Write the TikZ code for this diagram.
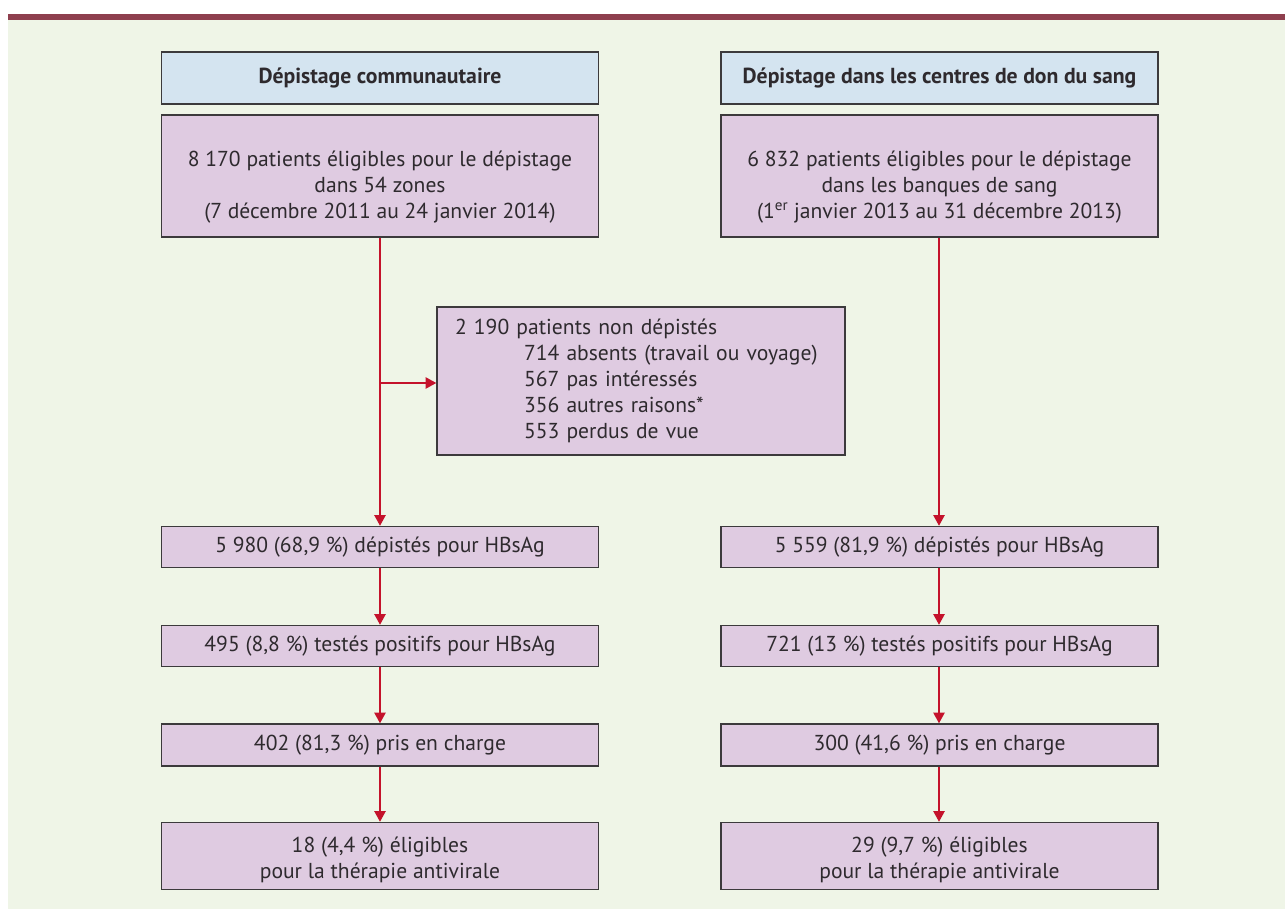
\documentclass[tikz,border=0pt]{standalone}
\usepackage{fontspec}
\setmainfont{PT Sans}
\usetikzlibrary{arrows.meta}
\definecolor{bgc}{HTML}{EFF5E7}
\definecolor{barc}{HTML}{8E3F4E}
\definecolor{hdrc}{HTML}{D4E4F0}
\definecolor{boxc}{HTML}{DFCBE1}
\definecolor{edgec}{HTML}{3C3A3C}
\definecolor{txtc}{HTML}{2E2A2E}
\definecolor{arrc}{HTML}{C4122B}
\tikzset{
  hdrbox/.style={draw=edgec, line width=1.1pt, fill=hdrc, minimum width=328pt, minimum height=39pt, inner sep=0pt,
    font=\fontsize{16.3}{19}\selectfont\bfseries, text=txtc},
  flowbox/.style={draw=edgec, line width=1.1pt, fill=boxc, minimum width=328pt, inner sep=0pt, align=center,
    font=\fontsize{16.2}{19.5}\selectfont, text=txtc},
  flowarrow/.style={draw=arrc, line width=1.1pt, -{Triangle[length=8pt,width=8.5pt]}},
}
\begin{document}
\begin{tikzpicture}[x=0.75pt,y=-0.75pt]
\useasboundingbox (0,0) rectangle (1285,909);
\fill[white] (0,0) rectangle (1285,909);
\fill[bgc] (8,20) rectangle (1285,909);
\fill[barc] (8,14) rectangle (1285,20);

\node[hdrbox] (h1) at (380,78) {Dépistage communautaire};
\node[hdrbox] (h2) at (939.5,78) {Dépistage dans les centres de don du sang};

\node[flowbox, minimum height=91.5pt] (l1) at (380,176) {\rule{0pt}{29pt}8 170 patients éligibles pour le dépistage\\dans 54 zones\\(7 décembre 2011 au 24 janvier 2014)};
\node[flowbox, minimum height=91.5pt] (r1) at (939.5,176) {\rule{0pt}{29pt}6 832 patients éligibles pour le dépistage\\dans les banques de sang\\(1\textsuperscript{er} janvier 2013 au 31 décembre 2013)};

\node[flowbox, minimum width=306pt, minimum height=111pt, text width=279pt, align=left] (cb) at (641,381)
  {2 190 patients non dépistés\\
   \hspace*{51.75pt}714 absents (travail ou voyage)\\
   \hspace*{51.75pt}567 pas intéressés\\
   \hspace*{51.75pt}356 autres raisons*\\
   \hspace*{51.75pt}553 perdus de vue};

\node[flowbox, minimum height=30.75pt] (l2) at (380,547) {5 980 (68,9 \%) dépistés pour HBsAg};
\node[flowbox, minimum height=30.75pt] (r2) at (939.5,547) {5 559 (81,9 \%) dépistés pour HBsAg};
\node[flowbox, minimum height=30.75pt] (l3) at (380,646) {495 (8,8 \%) testés positifs pour HBsAg};
\node[flowbox, minimum height=30.75pt] (r3) at (939.5,646) {721 (13 \%) testés positifs pour HBsAg};
\node[flowbox, minimum height=31.5pt] (l4) at (380,745) {402 (81,3 \%) pris en charge};
\node[flowbox, minimum height=31.5pt] (r4) at (939.5,745) {300 (41,6 \%) pris en charge};
\node[flowbox, minimum height=50.25pt] (l5) at (380,856) {\rule{0pt}{17pt}18 (4,4 \%) éligibles\\pour la thérapie antivirale};
\node[flowbox, minimum height=50.25pt] (r5) at (939.5,856) {\rule{0pt}{17pt}29 (9,7 \%) éligibles\\pour la thérapie antivirale};

\coordinate (br) at (380,383);
\coordinate (rx) at (939,0);
\draw[flowarrow] (l1) -- (l2);
\draw[flowarrow] (br) -- (br -| cb.west);
\draw[flowarrow] (r1.south -| rx) -- (r2.north -| rx);
\draw[flowarrow] (l2) -- (l3);
\draw[flowarrow] (r2.south -| rx) -- (r3.north -| rx);
\draw[flowarrow] (l3) -- (l4);
\draw[flowarrow] (r3.south -| rx) -- (r4.north -| rx);
\draw[flowarrow] (l4) -- (l5);
\draw[flowarrow] (r4.south -| rx) -- (r5.north -| rx);
\end{tikzpicture}
\end{document}
